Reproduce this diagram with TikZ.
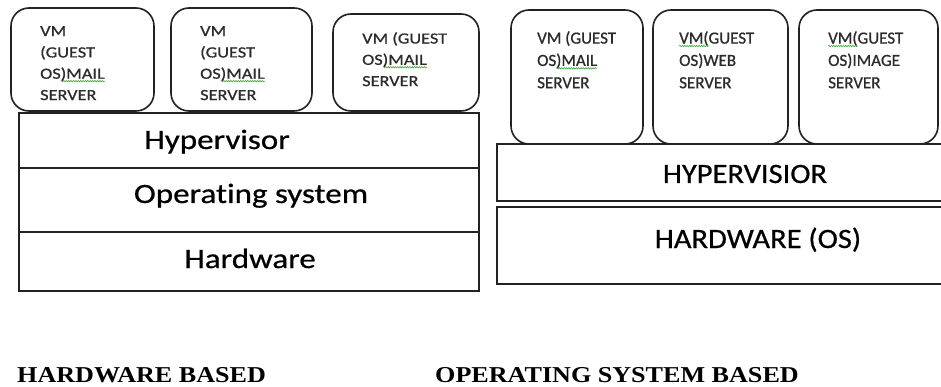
\documentclass[tikz,border=0pt]{standalone}
\usepackage{fontspec}
\usetikzlibrary{decorations.pathmorphing}
\newfontfamily\vmfontL[FakeStretch=1.18,FakeBold=0.7,Ligatures=NoCommon]{Carlito}
\newfontfamily\vmfontR[FakeBold=0.7,Ligatures=NoCommon]{Carlito}
\newfontfamily\bigfontL[FakeStretch=1.18,FakeBold=0.6,Ligatures=NoCommon]{Carlito}
\newfontfamily\bigfontR[FakeStretch=1.09,FakeBold=0.6,Ligatures=NoCommon]{Carlito}
\newfontfamily\capfont[FakeStretch=1.15]{Liberation Serif}
\definecolor{edge}{HTML}{222222}
\definecolor{vmtext}{HTML}{2B2B2B}
\definecolor{spell}{HTML}{3DA63D}
\tikzset{
  sqline/.style={draw=spell, line width=0.6pt, decorate,
    decoration={snake, amplitude=0.7pt, segment length=2.4pt}},
  vmbox/.style={draw=edge, line width=1.6pt, rounded corners=18pt},
  layer/.style={draw=edge, line width=1.6pt},
  vmtxtL/.style={anchor=north west, inner sep=0pt, align=left, text=vmtext,
    font=\vmfontL\fontsize{15.5}{21.3}\selectfont},
  vmtxtR/.style={anchor=north west, inner sep=0pt, align=left, text=vmtext,
    font=\vmfontR\fontsize{17}{22.3}\selectfont},
  bigL/.style={anchor=base, inner sep=0pt, font=\bigfontL\fontsize{28}{30}\selectfont},
  bigR/.style={anchor=base, inner sep=0pt, font=\bigfontR\fontsize{28}{30}\selectfont},
  caption/.style={anchor=base west, inner sep=0pt, font=\capfont\bfseries\fontsize{22.7}{24}\selectfont}
}
\newcommand\sq[1]{\tikz[baseline=(w.base)]{\node[inner sep=0pt,outer sep=0pt,anchor=base west](w){#1};\draw[overlay,sqline] ([yshift=-2.4pt]w.base west) -- ([yshift=-2.4pt]w.base east);}}
\begin{document}
\begin{tikzpicture}[x=1pt,y=-1pt]
\useasboundingbox (0,0) rectangle (941,387);
\clip (0,0) rectangle (941,387);
\fill[white] (0,0) rectangle (941,387);

% ---------- left: hardware based ----------
\draw[vmbox] (11,8) rectangle (154,111);
\draw[vmbox] (171,8) rectangle (312,111);
\draw[vmbox] (333,14) rectangle (479,111);
\draw[layer] (19,113) rectangle (479,291);
\draw[layer] (19,168) -- (479,168);
\draw[layer] (19,232) -- (479,232);

\node[vmtxtL] (l1) at (40,26) {VM\\(GUEST\\OS\sq{)MAIL}\\SERVER};
\node[vmtxtL] (l2) at (200,26) {VM\\(GUEST\\OS\sq{)MAIL}\\SERVER};
\node[vmtxtL] (l3) at (362,32) {VM (GUEST\\OS\sq{)MAIL}\\SERVER};

\node[bigL] (hyp) at (217,149) {Hypervisor};
\node[bigL] (os) at (251,203) {Operating system};
\node[bigL] (hw) at (250,268) {Hardware};

% ---------- right: operating system based ----------
\draw[vmbox] (511,10) rectangle (643,144);
\draw[vmbox] (653,10) rectangle (788,144);
\draw[vmbox] (799,10) rectangle (938,144);
\draw[layer] (497,144) rectangle (950,201);
\draw[layer] (497,207) rectangle (950,284);

\node[vmtxtR] (r1) at (537,31) {VM (GUEST\\OS\sq{)MAIL}\\SERVER};
\node[vmtxtR] (r2) at (679,31) {\sq{VM(}GUEST\\OS)WEB\\SERVER};
\node[vmtxtR] (r3) at (828,31) {\sq{VM(}GUEST\\OS)IMAGE\\SERVER};

\node[bigR] (hypr) at (745,183) {HYPERVISIOR};
\node[bigR] (hwos) at (758,248) {HARDWARE (OS)};

% ---------- captions ----------
\node[caption] (capL) at (17,382) {HARDWARE BASED};
\node[caption] (capR) at (435,382) {OPERATING SYSTEM BASED};
\end{tikzpicture}
\end{document}
